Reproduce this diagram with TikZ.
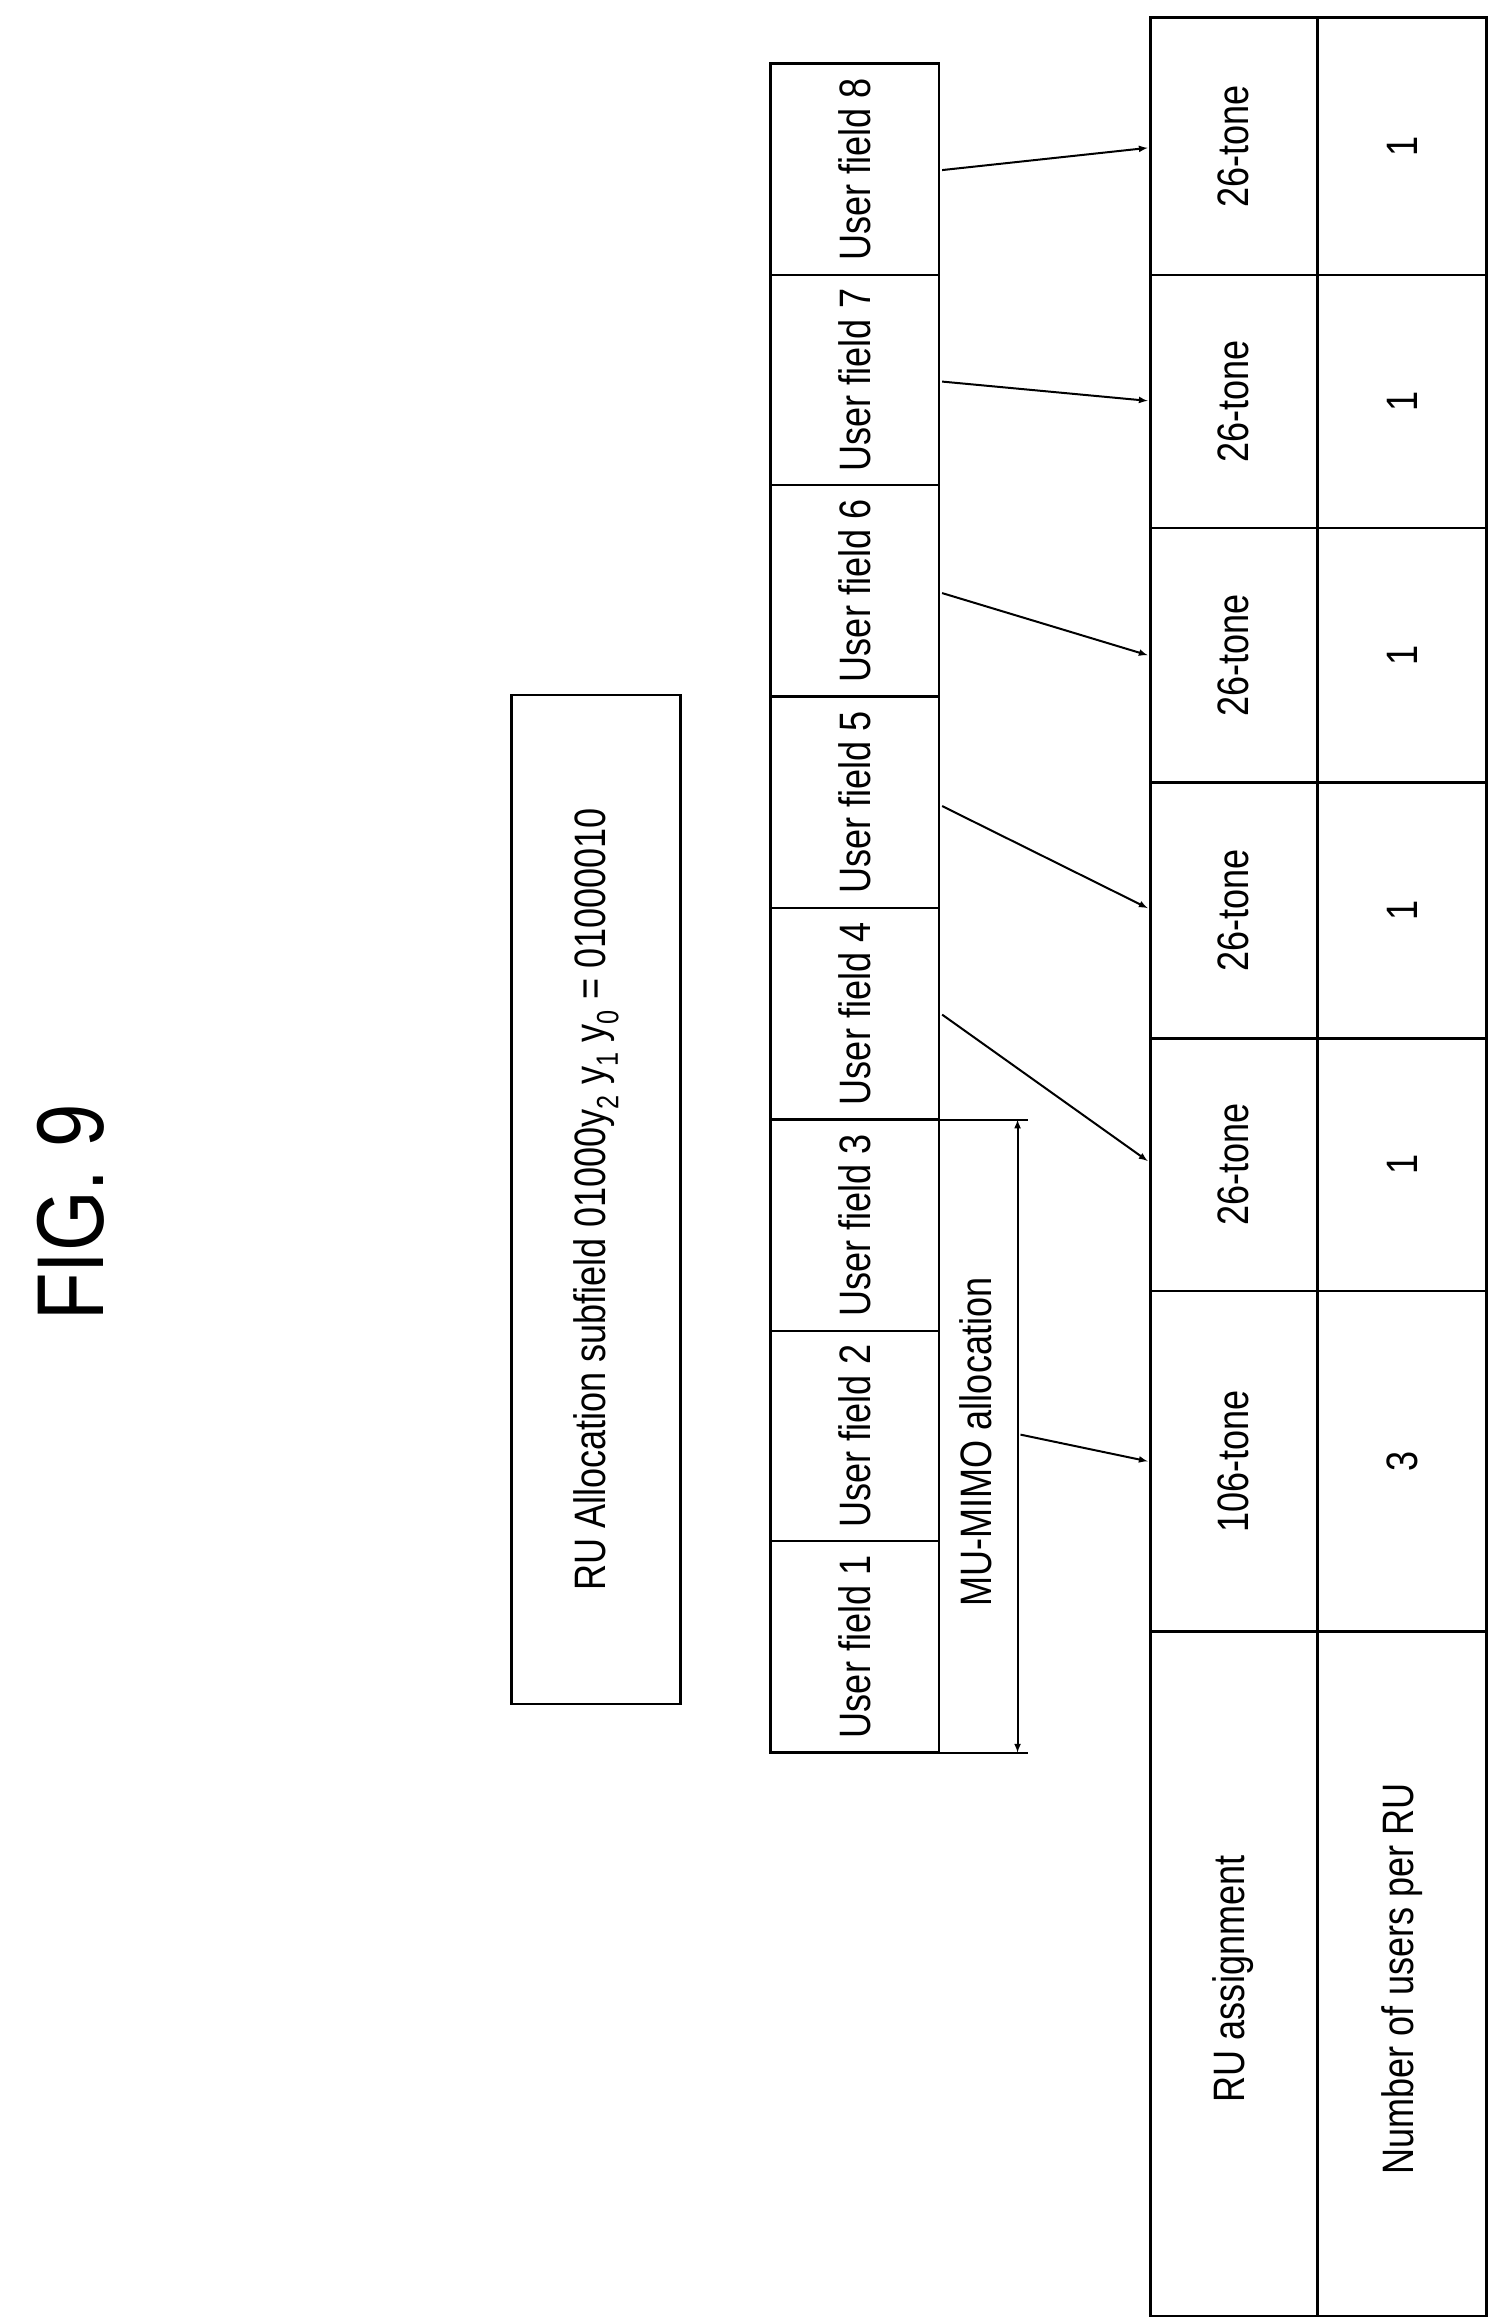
\documentclass[tikz,border=0pt]{standalone}
\usepackage{fontspec}
\setmainfont{Liberation Sans}[FakeStretch=0.82]
\begin{document}
\begin{tikzpicture}[x=1.479pt,y=-1.479pt,
  lbl/.style={rotate=90,font=\fontsize{44}{48}\selectfont,inner sep=0pt},
  box/.style={draw,line width=2.6pt},
  arr/.style={-latex,line width=2pt}]
\useasboundingbox (0,0) rectangle (1021,1570);
\node[rotate=90,font=\fontsize{95}{100}\selectfont] (fig) at (48,820) {FIG. 9};
\draw[box] (346,470) rectangle (460,1152);
\node[lbl] (rua) at (403,811) {RU Allocation subfield 01000y\textsubscript{2} y\textsubscript{1} y\textsubscript{0} = 01000010};
% user fields
\foreach \i/\t/\b in {8/43/186,7/186/328,6/328/471,5/471/614,4/614/757,3/757/900,2/900/1042,1/1042/1185}{
  \draw[box] (521,\t) rectangle (635,\b);
  \node[lbl] (u\i) at (578,{(\t+\b)/2}) {User field \i};
}
% MU-MIMO
\coordinate (m1) at (688,757);
\coordinate (m2) at (688,1185);
\draw[latex-latex,line width=2pt] (m1) -- (m2);
\draw[line width=2pt] (635,757) -- (695,757);
\draw[line width=2pt] (635,1185) -- (695,1185);
\node[lbl] (mu) at (660,975) {MU-MIMO allocation};
% table
\draw[box] (778,12) rectangle (1005,1566);
\draw[box] (891,12) -- (891,1566);
\foreach \y in {186,357,529,702,873,1103}{\draw[box] (778,\y) -- (1005,\y);}
\foreach \n/\t/\b in {a/12/186,b/186/357,c/357/529,d/529/702,e/702/873}{
  \node[lbl] (t\n) at (834,{(\t+\b)/2}) {26-tone};
  \node[lbl] (n\n) at (948,{(\t+\b)/2}) {1};
}
\node[lbl] (tf) at (834,988) {106-tone};
\node[lbl] (nf) at (948,988) {3};
\node[lbl] (ra) at (834,1338) {RU assignment};
\node[lbl] (nu) at (948,1338) {Number of users per RU};
% arrows
\coordinate (a8) at (637,115); \coordinate (b8) at (776,100);
\coordinate (a7) at (637,258); \coordinate (b7) at (776,271);
\coordinate (a6) at (637,401); \coordinate (b6) at (776,443);
\coordinate (a5) at (637,545); \coordinate (b5) at (776,614);
\coordinate (a4) at (637,686); \coordinate (b4) at (776,785);
\coordinate (am) at (690,970); \coordinate (bm) at (776,988);
\foreach \k in {8,7,6,5,4,m}{\draw[arr] (a\k) -- (b\k);}
\end{tikzpicture}
\end{document}
